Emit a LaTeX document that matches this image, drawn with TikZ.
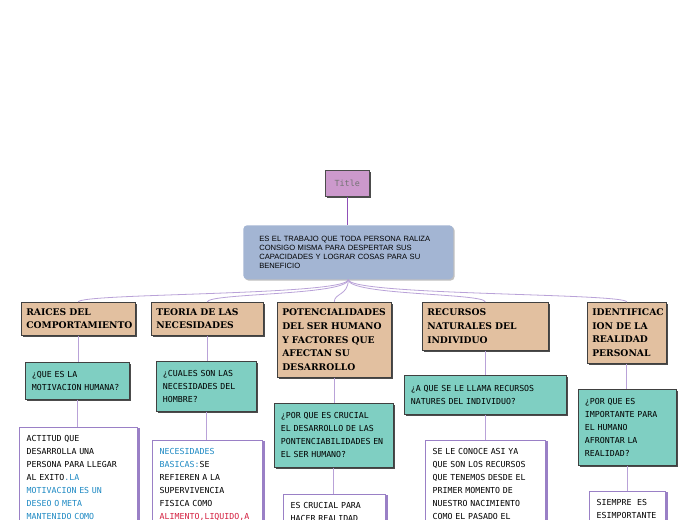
\documentclass[tikz,border=0pt]{standalone}
\usepackage{fontspec}
\setmainfont{Liberation Serif}
\newfontfamily\boxsans{Liberation Sans}
\newfontfamily\boxmono{DejaVu Sans Mono}
\newfontfamily\boxslab{DejaVu Serif}
\usetikzlibrary{shadows, positioning}
\definecolor{titlepink}{HTML}{CC99CC}
\definecolor{mainblue}{HTML}{A3B5D3}
\definecolor{tanfill}{HTML}{E2C0A0}
\definecolor{tealfill}{HTML}{7FCFC2}
\definecolor{linkpurple}{HTML}{B9A2D8}
\definecolor{trunkpurple}{HTML}{9050B8}
\definecolor{notepurple}{HTML}{9A80C6}
\definecolor{txtblue}{HTML}{1F8AC4}
\definecolor{txtred}{HTML}{D42040}

\begin{document}
\begin{tikzpicture}[
    x=0.75pt, y=-0.75pt,
    every node/.style={anchor=north west},
    titlebox/.style={rectangle, draw=black!70, fill=titlepink, minimum width=33pt, minimum height=19.5pt, inner sep=0pt, text=black!55, font=\boxmono\fontsize{6.3}{7}\selectfont, drop shadow={shadow xshift=1.5pt, shadow yshift=-1.5pt, fill=black!70, opacity=1}},
    mainbox/.style={rectangle, rounded corners=3pt, fill=mainblue, minimum width=157.5pt, minimum height=40.5pt, inner xsep=12pt, text width=133.5pt, align=left, font=\boxsans\fontsize{5.7}{6.6}\selectfont, drop shadow={shadow xshift=1pt, shadow yshift=-1pt, fill=black!25, opacity=1}},
    tanbox/.style={rectangle, draw=black!75, fill=tanfill, inner xsep=3.75pt, inner ysep=0pt, align=left, font=\boxslab\bfseries\fontsize{6.9}{10.3}\selectfont, drop shadow={shadow xshift=1.5pt, shadow yshift=-1.5pt, fill=black!70, opacity=1}},
    tealbox/.style={rectangle, draw=black!75, fill=tealfill, inner xsep=5pt, inner ysep=0pt, align=left, font=\boxmono\fontsize{6.2}{9.75}\selectfont, drop shadow={shadow xshift=1.5pt, shadow yshift=-1.5pt, fill=black!70, opacity=1}},
    notebox/.style={rectangle, draw=notepurple, fill=white, inner xsep=5.6pt, inner ysep=6pt, align=left, font=\boxmono\fontsize{6.2}{9.75}\selectfont, drop shadow={shadow xshift=2pt, shadow yshift=-0.5pt, fill=notepurple, opacity=1}},
    trunk/.style={draw=trunkpurple, line width=0.9pt},
    branch/.style={draw=linkpurple, line width=0.6pt}
]
\clip (0,0) rectangle (696,520);
\fill[white] (0,0) rectangle (696,520);

% root and summary
\node[titlebox] (title) at (325,170) {Title};
\node[mainbox] (main) at (243,225) {ES EL TRABAJO QUE TODA PERSONA RALIZA\\CONSIGO MISMA PARA DESPERTAR SUS\\CAPACIDADES Y LOGRAR COSAS PARA SU\\BENEFICIO};

% main topics
\node[tanbox, text width=78pt, minimum height=24.75pt] (raices) at (21,302) {RAICES DEL\\COMPORTAMIENTO};
\node[tanbox, text width=76.5pt, minimum height=24.75pt] (teoria) at (151,302) {TEORIA DE LAS\\NECESIDADES};
\node[tanbox, text width=78pt, minimum height=56.25pt] (potenc) at (277,302) {POTENCIALIDADES\\DEL SER HUMANO\\Y FACTORES QUE\\AFECTAN SU\\DESARROLLO};
\node[tanbox, text width=87pt, minimum height=36pt] (recursos) at (422,302) {RECURSOS\\NATURALES DEL\\INDIVIDUO};
\node[tanbox, text width=51.75pt, minimum height=45.75pt] (identif) at (587,302) {IDENTIFICAC\\ION DE LA\\REALIDAD\\PERSONAL};

% questions
\node[tealbox, text width=68pt, minimum height=27.75pt] (q1) at (25,362) {¿QUE ES LA\\MOTIVACION HUMANA?};
\node[tealbox, text width=65pt, minimum height=37.5pt] (q2) at (156,361) {¿CUALES SON LAS\\NECESIDADES DEL\\HOMBRE?};
\node[tealbox, text width=79.25pt, minimum height=48pt] (q3) at (274,403) {¿POR QUE ES CRUCIAL\\EL DESARROLLO DE LAS\\PONTENCIABILIDADES EN\\EL SER HUMANO?};
\node[tealbox, text width=111.5pt, minimum height=29.25pt] (q4) at (404,375) {¿A QUE SE LE LLAMA RECURSOS\\NATURES DEL INDIVIDUO?};
\node[tealbox, text width=63.5pt, minimum height=57pt] (q5) at (578,389) {¿POR QUE ES\\IMPORTANTE PARA\\EL HUMANO\\AFRONTAR LA\\REALIDAD?};

% answers
\node[notebox, text width=77.3pt] (a1) at (19,427) {ACTITUD QUE\\DESARROLLA UNA\\PERSONA PARA LLEGAR\\AL EXITO\textcolor{txtblue}{.LA}\\\textcolor{txtblue}{MOTIVACION ES UN}\\\textcolor{txtblue}{DESEO O META}\\\textcolor{txtblue}{MANTENIDO COMO}};
\node[notebox, text width=71.3pt] (a2) at (152,440) {\textcolor{txtblue}{NECESIDADES}\\\textcolor{txtblue}{BASICAS:}SE\\REFIEREN A LA\\SUPERVIVENCIA\\FISICA COMO\\\textcolor{txtred}{ALIMENTO,LIQUIDO,A}};
\node[notebox, text width=65.3pt] (a3) at (283,494) {ES CRUCIAL PARA\\HACER REALIDAD};
\node[notebox, text width=78.8pt] (a4) at (425,440) {SE LE CONOCE ASI YA\\QUE SON LOS RECURSOS\\QUE TENEMOS DESDE EL\\PRIMER MOMENTO DE\\NUESTRO NACIMIENTO\\COMO EL PASADO EL};
\node[notebox, text width=45.8pt] (a5) at (589,491) {SIEMPRE~ ES\\ESIMPORTANTE};

% connectors
\draw[trunk] (title.south) -- (title.south |- main.north);
\foreach \k in {raices,teoria,potenc,recursos,identif}
    \draw[branch] (main.south) .. controls +(0,16) and +(0,-9) .. (\k.north);
\foreach \a/\b in {raices/q1, q1/a1, teoria/q2, q2/a2, potenc/q3, q3/a3, recursos/q4, q4/a4, identif/q5, q5/a5}
    \draw[branch] (\a.south) -- (\a.south |- \b.north);
\end{tikzpicture}
\end{document}
